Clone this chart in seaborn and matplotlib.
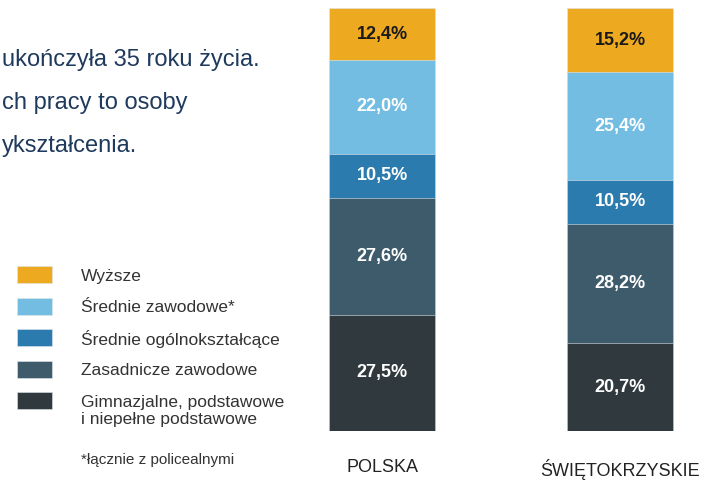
import matplotlib
matplotlib.use('Agg')
import matplotlib.pyplot as plt
from matplotlib.patches import Rectangle
import numpy as np
import pandas as pd
import seaborn as sns

# data (bottom -> top)
regions = ['POLSKA', 'ŚWIĘTOKRZYSKIE']
levels = ['Gimnazjalne, podstawowe\ni niepełne podstawowe', 'Zasadnicze zawodowe',
          'Średnie ogólnokształcące', 'Średnie zawodowe*', 'Wyższe']
polska = [27.5, 27.6, 10.5, 22.0, 12.4]
swietokrzyskie = [20.7, 28.2, 10.5, 25.4, 15.2]
colors = ['#30393d', '#3e5b6c', '#2b7bae', '#74bde2', '#eda920']
intro_lines = ['ukończyła 35 roku życia.', 'ch pracy to osoby', 'ykształcenia.']
footnote = '*łącznie z policealnymi'

sns.set_style('white')
plt.rcParams['font.family'] = ['Liberation Sans', 'DejaVu Sans']

df = pd.DataFrame({'region': np.repeat(regions, len(levels)),
                   'level': levels * len(regions),
                   'value': polska + swietokrzyskie})
df['cum'] = df.groupby('region')['value'].cumsum()

fig = plt.figure(figsize=(7.17, 4.8), dpi=100)
ax = fig.add_axes([298.7 / 717, 49 / 480, 404.6 / 717, 423 / 480])

# draw cumulative bars from the top layer down so they stack
for i in range(len(levels) - 1, -1, -1):
    sub = df[df['level'] == levels[i]]
    sns.barplot(data=sub, x='region', y='cum', order=regions, color=colors[i],
                width=0.445, saturation=1, ax=ax, errorbar=None,
                edgecolor='#dfe6ea', linewidth=0.4)

for j, reg in enumerate(regions):
    sub = df[df['region'] == reg]
    for i, (v, c) in enumerate(zip(sub['value'], sub['cum'])):
        ax.text(j, c - v / 2, ('%.1f%%' % v).replace('.', ','), ha='center', va='center',
                fontsize=13, fontweight='bold',
                color='#1a1a1a' if i == len(levels) - 1 else 'white')

ax.set_xlim(-0.35, 1.35)
ax.set_ylim(0, 100)
ax.set_xlabel('')
ax.set_ylabel('')
ax.set_yticks([])
ax.tick_params(axis='x', length=0, pad=20, labelsize=13, labelcolor='#222222')
sns.despine(ax=ax, left=True, bottom=True)

# intro text (cut off on the left in the original)
for k, line in enumerate(intro_lines):
    fig.text(2 / 717, 1 - (60 + 43 * k) / 480, line, ha='left', va='center',
             fontsize=17, color='#1f3a5c')

# legend
ys = [274.7, 306, 337.5, 369, 400.7]
for k in range(len(levels)):
    i = len(levels) - 1 - k
    fig.patches.append(Rectangle((17 / 717, 1 - (ys[k] + 8.5) / 480), 35 / 717, 17 / 480,
                                 transform=fig.transFigure, facecolor=colors[i],
                                 edgecolor='#dfe6ea', linewidth=0.4))
    y = ys[k] + (10.5 if '\n' in levels[i] else 1.5)
    fig.text(81 / 717, 1 - y / 480, levels[i], ha='left', va='center',
             fontsize=12.5, color='#333333', linespacing=1.15)
fig.text(81 / 717, 1 - 460 / 480, footnote, ha='left', va='center',
         fontsize=11, color='#333333')

plt.savefig('out.png', dpi=100)
